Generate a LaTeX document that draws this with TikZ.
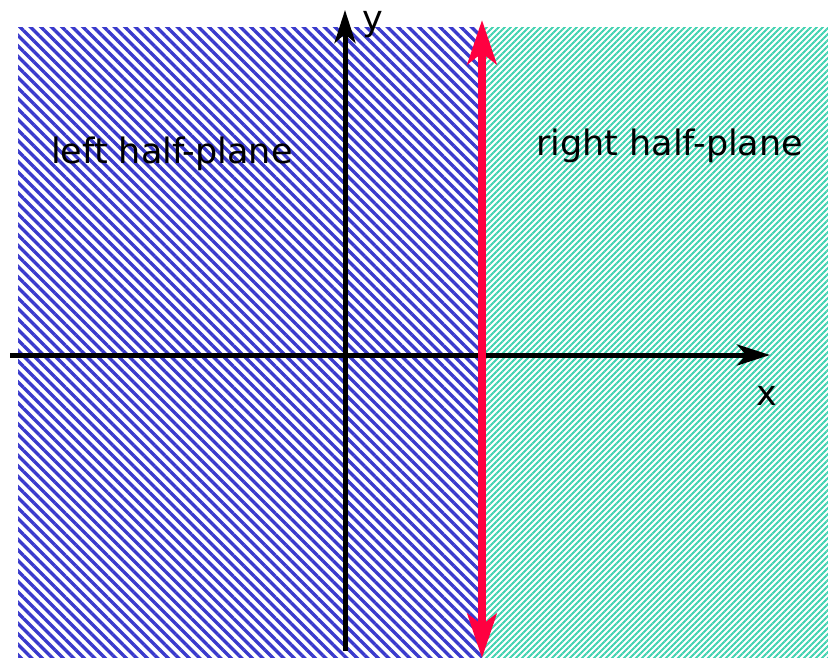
\documentclass[tikz,border=0pt]{standalone}
\usepackage{fontspec}
\setmainfont{DejaVu Sans}
\usetikzlibrary{patterns.meta,arrows.meta}
\definecolor{blueC}{RGB}{58,58,204}
\definecolor{tealC}{RGB}{64,210,176}
\definecolor{redC}{RGB}{255,0,64}
\tikzset{
  lbl/.style={inner sep=0pt,font=\fontsize{35}{40}\selectfont},
  axis/.style={line width=5pt,black,-{Stealth[length=33pt,width=21pt,inset=9pt]}},
  bound/.style={line width=8pt,redC,{Stealth[length=44pt,width=29pt,inset=11pt]}-{Stealth[length=44pt,width=29pt,inset=11pt]}}
}
\begin{document}
\begin{tikzpicture}[x=1pt,y=-1pt]
\useasboundingbox (0,0) rectangle (828,658);
\fill[pattern={Lines[angle=-45,distance=7.4246pt,line width=3.5pt]},pattern color=blueC] (18,28) rectangle (482,658);
\fill[pattern={Lines[angle=45,distance=4.2426pt,line width=2pt]},pattern color=tealC] (482,28) rectangle (828,658);
\coordinate (xs) at (10,355);
\coordinate (xe) at (770,355);
\coordinate (ys) at (345,651);
\coordinate (ye) at (345,10);
\coordinate (rb) at (482,658);
\coordinate (rt) at (482,20);
\draw[axis] (xs) -- (xe);
\draw[axis] (ys) -- (ye);
\draw[bound] (rb) -- (rt);
\node[lbl,anchor=base west] (lh) at (51,164) {left half-plane};
\node[lbl,anchor=base west] (rh) at (536,156) {right half-plane};
\node[lbl,anchor=base west] (yl) at (362,31) {y};
\node[lbl,anchor=base west] (xl) at (756,405) {x};
\end{tikzpicture}
\end{document}
